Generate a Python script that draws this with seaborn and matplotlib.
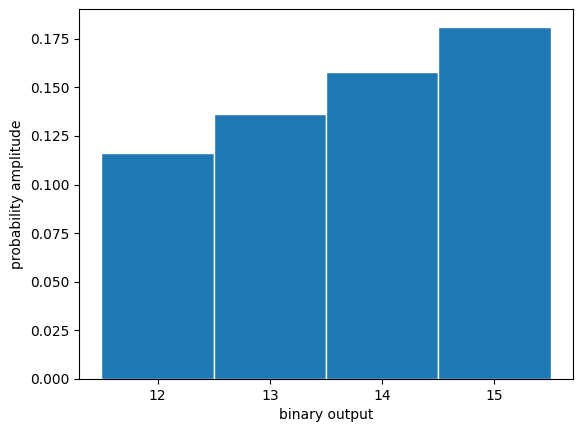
import matplotlib
matplotlib.use("Agg")
import matplotlib.pyplot as plt
import seaborn as sns

# outcome states and their measured probabilities
outputs = [12, 13, 14, 15]
probabilities = [0.1161, 0.1362, 0.1580, 0.1812]

fig = plt.figure(figsize=(5.84, 4.32), dpi=100)
ax = fig.add_axes([79 / 584, 1 - 379 / 432, (573 - 79) / 584, (379 - 9) / 432])

sns.histplot(
    x=outputs,
    weights=probabilities,
    discrete=True,
    color="#1f77b4",
    alpha=1,
    edgecolor="white",
    linewidth=1,
    ax=ax,
)
ax.set_xticks(outputs)
ax.set_xlabel("binary output")
ax.set_ylabel("probability amplitude")

plt.savefig("out.png", dpi=100)
plt.close()
